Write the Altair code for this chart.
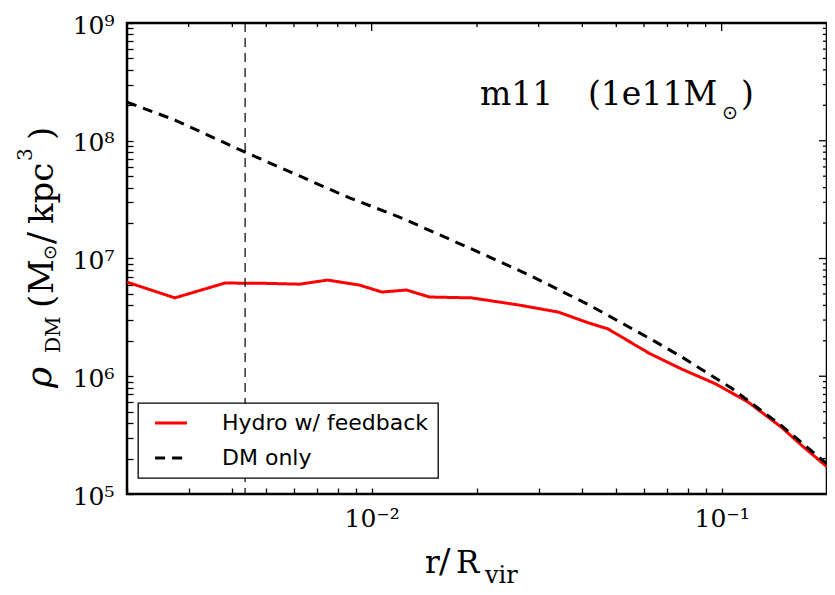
import altair as alt
import pandas as pd

# ---------------- data ----------------
r_hydro = [0.002, 0.00274, 0.00381, 0.0050, 0.00622, 0.00748, 0.00922, 0.0107,
           0.01258, 0.01462, 0.0193, 0.0263, 0.0341, 0.0418, 0.0474, 0.062,
           0.0769, 0.0962, 0.119, 0.148, 0.17, 0.2]
rho_hydro = [6.3e6, 4.63e6, 6.19e6, 6.15e6, 6.05e6, 6.56e6, 5.95e6, 5.19e6,
             5.4e6, 4.71e6, 4.63e6, 4.03e6, 3.51e6, 2.83e6, 2.52e6, 1.57e6,
             1.15e6, 8.6e5, 6.04e5, 3.7e5, 2.56e5, 1.7e5]

r_dmo = [0.002, 0.00274, 0.00435, 0.00622, 0.00865, 0.012, 0.019, 0.0282,
         0.0418, 0.062, 0.0769, 0.1066, 0.148, 0.2]
rho_dmo = [2.13e8, 1.50e8, 8.0e7, 5.02e7, 3.27e7, 2.25e7, 1.23e7, 7.24e6,
           4.03e6, 2.11e6, 1.46e6, 7.94e5, 3.82e5, 1.80e5]

r_softening = [0.00435]

series_names = ["Hydro w/ feedback", "DM only"]
series_colors = ["#ff0000", "#000000"]

x_major = [0.01, 0.1]
x_major_labels = ["10⁻²", "10⁻¹"]
x_minor = [0.002, 0.003, 0.004, 0.005, 0.006, 0.007, 0.008, 0.009,
           0.02, 0.03, 0.04, 0.05, 0.06, 0.07, 0.08, 0.09, 0.2]
y_major = [1e5, 1e6, 1e7, 1e8, 1e9]
y_major_labels = ["10⁵", "10⁶", "10⁷", "10⁸", "10⁹"]
y_minor = [k * 10.0 ** e for e in range(5, 9) for k in range(2, 10)]

title_main = "m11"
title_mass = "(1e11M"
sun = "⊙"
title_close = ")"

# ---------------- layout ----------------
W, H = 700, 471
SERIF = "DejaVu Serif"
SANS = "DejaVu Sans"
TICK = 6

df_h = pd.DataFrame({"r": r_hydro, "rho": rho_hydro, "series": series_names[0]})
df_d = pd.DataFrame({"r": r_dmo, "rho": rho_dmo, "series": series_names[1]})
df_v = pd.DataFrame({"r": r_softening})

xs = alt.Scale(type="log", domain=[0.002, 0.2], nice=False)
ys = alt.Scale(type="log", domain=[1e5, 1e9], nice=False)


def label_expr(labels, offset):
    arr = "[" + ",".join("'%s'" % s for s in labels) + "]"
    lg = "(log(datum.value)/LN10)"
    return ("abs(%s - round(%s)) < 0.001 ? %s[round(%s) + %d] : ''"
            % (lg, lg, arr, lg, offset))


# one axis per side: labels at the decades, inward ticks at every tick value
x_axis = alt.Axis(orient="bottom", values=sorted(x_major + x_minor),
                  labelExpr=label_expr(x_major_labels, 2),
                  ticks=True, tickSize=alt.ExprRef(expr="-%d" % TICK),
                  tickColor="black", tickWidth=1.3,
                  domain=False, grid=False, title=None,
                  labelFont=SERIF, labelFontSize=25, labelColor="black",
                  labelPadding=12 + TICK, labelOverlap=False,
                  labelFlush=False, labelBaseline="top")
y_axis = alt.Axis(orient="left", values=sorted(y_major + y_minor),
                  labelExpr=label_expr(y_major_labels, -5),
                  ticks=True, tickSize=alt.ExprRef(expr="-%d" % TICK),
                  tickColor="black", tickWidth=1.3,
                  domain=False, grid=False, title=None,
                  labelFont=SERIF, labelFontSize=25, labelColor="black",
                  labelPadding=13 + TICK, labelOverlap=False,
                  labelFlush=False, labelBaseline="middle", labelOffset=2)


def X(field):
    return alt.X(field, type="quantitative", scale=xs, axis=x_axis)


def Y(field):
    return alt.Y(field, type="quantitative", scale=ys, axis=y_axis)


color_scale = alt.Scale(domain=series_names, range=series_colors)
dash_scale = alt.Scale(domain=series_names, range=[[1, 0], [10, 7]])
legend = alt.Legend(title=None, orient="none", legendX=11, legendY=380,
                    padding=9, strokeColor="black", fillColor="white",
                    cornerRadius=0, symbolType="M-2,0H2", symbolSize=253,
                    symbolStrokeWidth=3, symbolOffset=13, labelOffset=40,
                    rowPadding=13, labelFont=SANS, labelFontSize=22,
                    labelColor="black", labelLimit=400)

hydro = alt.Chart(df_h).mark_line(strokeWidth=3, clip=True).encode(
    x=X("r"), y=Y("rho"),
    color=alt.Color("series:N", scale=color_scale, legend=legend),
    strokeDash=alt.StrokeDash("series:N", scale=dash_scale, legend=legend),
)

vline = alt.Chart(df_v).mark_rule(color="black", strokeWidth=1.2,
                                  strokeDash=[9, 6]).encode(x=X("r"))

dmo = alt.Chart(df_d).mark_line(strokeWidth=3, clip=True).encode(
    x=X("r"), y=Y("rho"),
    color=alt.Color("series:N", scale=color_scale, legend=legend),
    strokeDash=alt.StrokeDash("series:N", scale=dash_scale, legend=legend),
)


# inward ticks on the top and right edges (mirror of the axes)
def x_ticks(values, y0, y1):
    return alt.Chart(pd.DataFrame({"r": values})).mark_rule(
        color="black", strokeWidth=1.3).encode(
        x=X("r"), y=alt.value(y0), y2=alt.value(y1))


def y_ticks(values, x0, x1):
    return alt.Chart(pd.DataFrame({"rho": values})).mark_rule(
        color="black", strokeWidth=1.3).encode(
        y=Y("rho"), x=alt.value(x0), x2=alt.value(x1))


ticks = [
    x_ticks(x_major, 0, 8), x_ticks(x_minor, 0, 4),
    y_ticks(y_major, W, W - 8), y_ticks(y_minor, W, W - 4),
]


def txt(s, x, y, size, angle=0, style="normal", font=SERIF):
    return alt.Chart(pd.DataFrame({"t": [s]})).mark_text(
        align="left", baseline="alphabetic", font=font, fontSize=size,
        angle=angle, fontStyle=style, color="black").encode(
        text="t:N", x=alt.value(x), y=alt.value(y))


texts = [
    # annotation
    txt(title_main, 353, 82, 33),
    txt(title_mass, 461, 82, 33),
    txt(sun, 595, 96, 19, font=SANS),
    txt(title_close, 614, 82, 33),
    # x title r/R_vir
    txt("r", 298, 550, 31),
    txt("/", 312, 550, 34),
    txt("R", 329, 550, 31),
    txt("vir", 358, 560, 24),
    # y title rho_DM (M_sun / kpc^3)
    txt("ρ", -76, 365, 36, angle=270, style="italic"),
    txt("DM", -67, 330, 20, angle=270),
    txt("(", -74, 285, 34, angle=270),
    txt("M", -74, 271, 34, angle=270),
    txt(sun, -71, 237, 18, angle=270, font=SANS),
    txt("/", -74, 221, 36, angle=270),
    txt("kpc", -74, 201, 34, angle=270),
    txt("3", -95, 138, 20, angle=270),
    txt(")", -74, 117, 34, angle=270),
]

chart = alt.layer(hydro, vline, dmo, *ticks, *texts).properties(
    width=W, height=H,
    autosize=alt.AutoSizeParams(type="none"),
    padding={"left": 119, "top": 15, "right": 0, "bottom": 95},
).configure_view(
    stroke="black", strokeWidth=2.5
).configure_legend(
    strokeWidth=1.3
)

chart.save("out.html", embed_options={"renderer": "svg", "actions": False})
